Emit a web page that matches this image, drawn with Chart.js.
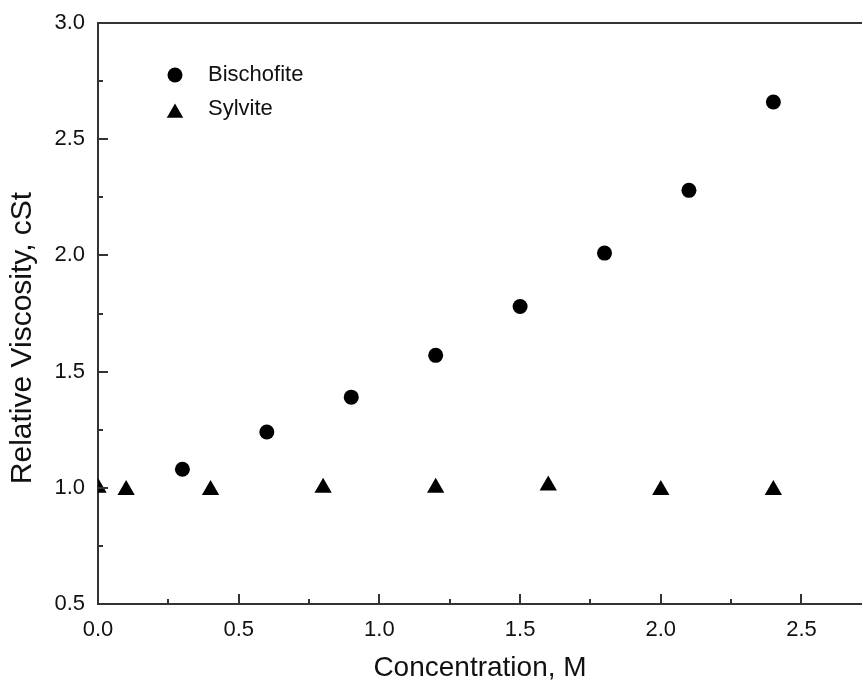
<!DOCTYPE html>
<html>
<head>
<meta charset="utf-8">
<script src="https://cdn.jsdelivr.net/npm/chart.js@4.4.0/dist/chart.umd.min.js"></script>
<style>
  html, body { margin: 0; padding: 0; background: #ffffff; overflow: hidden; }
  #wrap { width: 862px; height: 689px; position: relative; }
</style>
</head>
<body>
<div id="wrap"><canvas id="c" width="862" height="689"></canvas></div>
<script>
// ---- data ----
const seriesNames = ['Bischofite', 'Sylvite'];
const bischofiteConc = [0.3, 0.6, 0.9, 1.2, 1.5, 1.8, 2.1, 2.4];
const bischofiteVisc = [1.08, 1.24, 1.39, 1.57, 1.78, 2.01, 2.28, 2.66];
const sylviteConc = [0.0, 0.1, 0.4, 0.8, 1.2, 1.6, 2.0, 2.4];
const sylviteVisc = [1.00, 0.99, 0.99, 1.00, 1.00, 1.01, 0.99, 0.99];
const xTicks = [0.0, 0.5, 1.0, 1.5, 2.0, 2.5];
const yTicks = [0.5, 1.0, 1.5, 2.0, 2.5, 3.0];
const xTitle = 'Concentration, M';
const yTitle = 'Relative Viscosity, cSt';

const FONT = "'Liberation Sans', Arial, Helvetica, sans-serif";
const INK = '#111111';
const AXIS = '#333333';

const toPoints = (xs, ys) => xs.map((x, i) => ({ x: x, y: ys[i] }));

// inward major/minor ticks + top frame line
const frameTicks = {
  id: 'frameTicks',
  afterDatasetsDraw(chart) {
    const { ctx, chartArea: a, scales: { x, y } } = chart;
    ctx.save();
    ctx.strokeStyle = AXIS;
    ctx.lineWidth = 2;
    ctx.beginPath();
    ctx.moveTo(a.left - 1, a.top);
    ctx.lineTo(a.right, a.top);
    ctx.stroke();
    const major = 10, minor = 5;
    const xStep = xTicks[1] - xTicks[0];
    const yStep = yTicks[1] - yTicks[0];
    ctx.beginPath();
    xTicks.forEach(v => {
      const px = Math.round(x.getPixelForValue(v));
      ctx.moveTo(px, a.bottom); ctx.lineTo(px, a.bottom - major);
      const m = v + xStep / 2;
      if (m <= x.max) {
        const pm = Math.round(x.getPixelForValue(m));
        ctx.moveTo(pm, a.bottom); ctx.lineTo(pm, a.bottom - minor);
      }
    });
    yTicks.forEach(v => {
      const py = Math.round(y.getPixelForValue(v));
      ctx.moveTo(a.left, py); ctx.lineTo(a.left + major, py);
      const m = v + yStep / 2;
      if (m < y.max) {
        const pm = Math.round(y.getPixelForValue(m));
        ctx.moveTo(a.left, pm); ctx.lineTo(a.left + minor, pm);
      }
    });
    ctx.stroke();
    ctx.restore();
  }
};

// y-axis title (placed as in the reference, slightly below the axis centre)
const yTitlePlugin = {
  id: 'yTitlePlugin',
  afterDraw(chart) {
    const ctx = chart.ctx;
    ctx.save();
    ctx.translate(23, 338);
    ctx.rotate(-Math.PI / 2);
    ctx.fillStyle = INK;
    ctx.font = '30px ' + FONT;
    ctx.textAlign = 'center';
    ctx.textBaseline = 'middle';
    ctx.fillText(yTitle, 0, 0);
    ctx.restore();
  }
};

// legend inside plot area
const innerLegend = {
  id: 'innerLegend',
  afterDraw(chart) {
    const ctx = chart.ctx;
    const items = [
      { cx: 175, cy: 75, ty: 75 },
      { cx: 175, cy: 113, ty: 109 }
    ];
    ctx.save();
    chart.data.datasets.forEach((ds, i) => {
      const it = items[i];
      ctx.fillStyle = ds.backgroundColor;
      ctx.strokeStyle = ds.backgroundColor;
      Chart.helpers.drawPoint(ctx, {
        pointStyle: ds.pointStyle,
        radius: ds.pointStyle === 'triangle' ? 9.5 : 7.5,
        rotation: 0,
        borderWidth: 0
      }, it.cx, it.cy);
      ctx.fillStyle = INK;
      ctx.font = '22px ' + FONT;
      ctx.textAlign = 'left';
      ctx.textBaseline = 'middle';
      ctx.fillText(ds.label, 208, it.ty);
    });
    ctx.restore();
  }
};

new Chart(document.getElementById('c'), {
  type: 'scatter',
  data: {
    datasets: [
      {
        label: seriesNames[0],
        data: toPoints(bischofiteConc, bischofiteVisc),
        pointStyle: 'circle',
        pointRadius: 7.5,
        pointBorderWidth: 0,
        backgroundColor: '#000000',
        borderColor: '#000000'
      },
      {
        label: seriesNames[1],
        data: toPoints(sylviteConc, sylviteVisc),
        pointStyle: 'triangle',
        pointRadius: 10,
        pointBorderWidth: 0,
        backgroundColor: '#000000',
        borderColor: '#000000',
        clip: { left: 0, top: false, right: false, bottom: false }
      }
    ]
  },
  options: {
    responsive: false,
    animation: false,
    devicePixelRatio: 1,
    layout: { autoPadding: false, padding: { top: 23, right: 0, left: 0, bottom: 0 } },
    plugins: { legend: { display: false }, tooltip: { enabled: false } },
    scales: {
      x: {
        type: 'linear',
        position: 'bottom',
        min: 0,
        max: 2.715,
        afterBuildTicks: s => { s.ticks = xTicks.map(v => ({ value: v })); },
        afterFit: s => { s.height = 85; s.paddingLeft = 0; s.paddingRight = 0; },
        grid: { display: false, drawTicks: false },
        border: { display: true, color: AXIS, width: 2 },
        ticks: {
          padding: 13,
          color: INK,
          font: { family: FONT, size: 22 },
          maxRotation: 0,
          autoSkip: false,
          callback: v => Number(v).toFixed(1)
        },
        title: {
          display: true,
          text: xTitle,
          color: INK,
          font: { family: FONT, size: 28 },
          padding: { top: 0, bottom: 4 }
        }
      },
      y: {
        type: 'linear',
        position: 'left',
        min: 0.5,
        max: 3.0,
        afterBuildTicks: s => { s.ticks = yTicks.map(v => ({ value: v })); },
        afterFit: s => { s.width = 98; s.paddingTop = 0; s.paddingBottom = 0; },
        grid: { display: false, drawTicks: false },
        border: { display: true, color: AXIS, width: 2 },
        ticks: {
          padding: 13,
          color: INK,
          font: { family: FONT, size: 22 },
          autoSkip: false,
          callback: v => Number(v).toFixed(1)
        },
        title: { display: false, text: yTitle }
      }
    }
  },
  plugins: [frameTicks, yTitlePlugin, innerLegend]
});
</script>
</body>
</html>
